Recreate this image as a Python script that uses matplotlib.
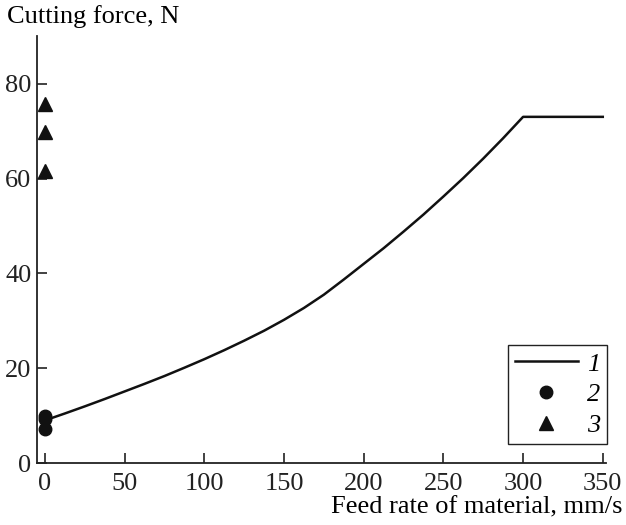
import numpy as np
import matplotlib.pyplot as plt

plt.rcParams['font.family'] = ['Liberation Serif', 'DejaVu Serif']
plt.rcParams['font.size'] = 19

# curve 1: calculated cutting force vs feed rate
feed = [0, 12.5, 25, 37.5, 50, 62.5, 75, 87.5, 100, 112.5, 125, 137.5, 150,
        162.5, 175, 187.5, 200, 212.5, 225, 237.5, 250, 262.5, 275, 287.5, 300, 350]
force = [9.0, 10.45, 11.95, 13.5, 15.1, 16.7, 18.35, 20.1, 21.9, 23.8, 25.8, 27.9, 30.2,
         32.7, 35.5, 38.7, 42.0, 45.3, 48.8, 52.4, 56.2, 60.1, 64.2, 68.5, 73.0, 73.0]

# series 2 (circles) and 3 (triangles), measured at zero feed
circ_x = [0, 0, 0]
circ_y = [9.9, 9.3, 7.1]
tri_x = [0, 0, 0]
tri_y = [75.8, 69.9, 61.6]

fig = plt.figure(figsize=(6.26, 5.25), dpi=100)
ax = fig.add_axes([0.059, 0.118, 0.909, 0.813])

ax.plot(feed, force, color='#111111', lw=1.8, label='1')
ax.plot(circ_x, circ_y, 'o', color='#111111', ms=9, label='2', clip_on=False)
ax.plot(tri_x, tri_y, '^', color='#111111', ms=9.5, label='3', clip_on=False)

ax.set_xlim(-5, 352)
ax.set_ylim(0, 90)
ax.set_xticks(np.arange(0, 351, 50))
ax.set_yticks([0, 20, 40, 60, 80])

for s in ['top', 'right']:
    ax.spines[s].set_visible(False)
for s in ['left', 'bottom']:
    ax.spines[s].set_linewidth(1.3)
    ax.spines[s].set_color('#222222')
ax.tick_params(direction='in', length=7, width=1.2, colors='#222222',
               labelsize=19)
ax.tick_params(axis='x', pad=7)
ax.tick_params(axis='y', pad=4)

fig.text(0.011, 0.969, 'Cutting force, N', fontsize=19, va='center', ha='left')
fig.text(0.994, 0.033, 'Feed rate of material, mm/s', fontsize=19, va='center', ha='right')

leg = ax.legend(loc='lower right', bbox_to_anchor=(1.002, 0.045), fancybox=False,
                edgecolor='#222222', framealpha=1, handlelength=2.4,
                borderpad=0.25, labelspacing=0.28, handletextpad=0.35,
                borderaxespad=0)
leg.get_frame().set_linewidth(1.0)
for t in leg.get_texts():
    t.set_fontstyle('italic')

plt.savefig('out.png', dpi=100)
plt.close(fig)
